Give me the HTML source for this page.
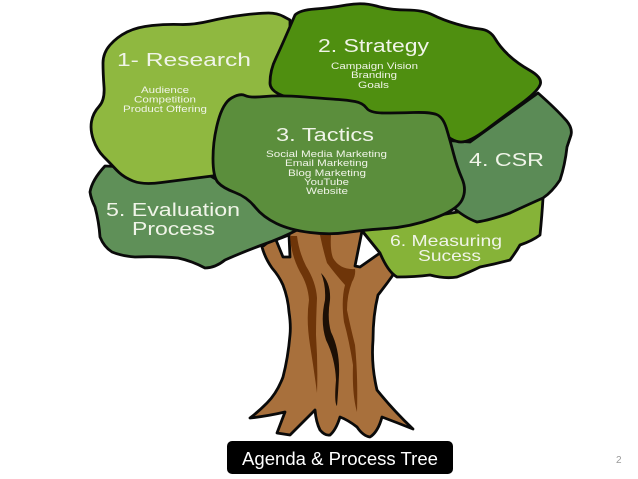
<!DOCTYPE html>
<html>
<head>
<meta charset="utf-8">
<style>
html,body{margin:0;padding:0;background:#fff;width:638px;height:479px;overflow:hidden}
svg{display:block}
text{font-family:"Liberation Sans",sans-serif}
.l{fill:#f0f4e8;font-size:18px}
.s{fill:#f0f4e8;font-size:9.5px}
.b{stroke:#0a0a0a;stroke-width:2.8;stroke-linejoin:round}
</style>
</head>
<body>
<svg width="638" height="479" viewBox="0 0 638 479" xmlns="http://www.w3.org/2000/svg">
<rect width="638" height="479" fill="#fff"/>

<!-- trunk -->
<path class="b" fill="#a8703c" d="M262 247 Q265 258 272 268 Q279 276 283 285 Q288 298 289 312 Q291 325 290 335 Q288 358 283 377 Q277 393 267 403 Q258 412 250 418 Q268 416 285 412 Q280 425 277 433 L290 435 Q303 422 315 410 Q316 422 320 430 Q325 436 330 435 Q336 430 340 417 Q348 420 357 427 Q363 436 370 437 Q378 432 382 417 Q398 423 413 429 Q393 410 377 390 Q371 365 373 340 Q373 315 378 295 Q386 285 393 275 Q388 263 380 253 L370 225 L290 225 Z"/>
<path class="b" fill="#fff" d="M276 240 L289 235 L290 257 L283 257 Z"/>
<path class="b" fill="#fff" d="M362 231 L380 253 L360 267 L355 266 Z"/>
<path fill="#6e3509" d="M290 236 L297 236 Q299 252 306 266 Q316 282 317 298 Q316 320 316 335 Q318 365 317 393 Q314 370 310 345 Q306 320 309 300 Q308 285 300 272 Q291 255 290 236 Z"/>
<path fill="#6e3509" d="M320 235 L331 235 Q330 250 333 258 Q340 270 355 269 Q356 275 352 282 Q347 295 347 310 Q350 325 355 345 Q358 375 357 412 Q352 395 353 365 Q349 340 344 322 Q341 300 345 285 Q336 275 327 263 Q323 250 320 235 Z"/>
<path fill="#1c0f05" d="M321 273 Q331 283 330 300 Q327 318 331 332 Q340 350 339 375 Q338 395 337 406 Q334 403 336 380 Q335 358 326 340 Q320 322 325 300 Q326 285 321 273 Z"/>

<!-- blob 6 -->
<path class="b" fill="#86b338" d="M360 228 Q372 243 380 253 Q388 272 397 277 Q415 277 430 275 Q445 279 457 277 Q470 272 480 267 Q495 264 510 260 Q516 252 520 245 Q532 241 540 235 Q542 215 543 198 L470 210 Z"/>
<!-- blob 4 -->
<path class="b" fill="#5b8b56" d="M538 93 Q555 108 564 118 Q573 127 571 135 L567 147 Q565 165 560 180 Q552 192 543 198 Q525 206 510 213 Q490 220 477 222 Q465 218 450 205 L440 140 L470 142 Z"/>
<!-- blob 5 -->
<path class="b" fill="#5f9058" d="M105 166 Q92 180 90 192 Q91 199 95 207 Q99 222 100 237 Q104 247 112 252 Q122 256 135 257 Q158 256 178 258 Q192 261 205 268 Q215 268 225 260 Q243 252 262 245 Q282 238 299 229 L270 210 L200 170 Z"/>
<!-- blob 1 -->
<path class="b" fill="#8fb840" d="M283.5 16.5 Q277 13 268.5 13 Q260 13 243.5 15 Q227 17 210 21 Q193 25 180 24.5 Q167 24 152 25.5 Q137 27 127 32 Q117 37 110 45 Q103 53 103 63 Q103 73 104 86.5 Q105 100 99 106.5 Q93 113 91.5 121.5 Q90 130 93.5 140 Q97 150 103.5 156.5 Q110 163 116.5 170 Q123 177 133 181 Q143 185 161.5 182.5 Q180 180 220 175 L290 100 L290 20 Z"/>
<!-- blob 2 -->
<path class="b" fill="#4f8f10" d="M295 15 Q300 10 315 9 Q330 8 346.5 5 Q363 2 376.5 6 Q390 10 406.5 10 Q423 10 433 15 Q443 20 456.5 24 Q470 28 480 29 Q490 30 495 38.5 Q500 47 508.5 55 Q517 63 530 70.5 Q543 78 540 85 Q537 92 520 104.5 Q503 117 486.5 129.5 Q470 142 461 142 Q452 142 440 130 L300 100 Q270 95 270 83 Q270 70 276 58 Q283 43 295 15 Z"/>
<!-- blob 3 -->
<path class="b" fill="#5b8e3c" d="M245 95.5 Q240 93 231.5 98 Q223 103 218 121.5 Q213 140 213 158.5 Q213 177 218 182.5 Q223 188 235 192.5 Q247 197 255 207 Q263 217 276.5 223.5 Q290 230 310 232.5 Q330 235 346.5 232.5 Q363 230 386.5 228.5 Q410 227 433.5 218.5 Q457 210 462 200 Q467 190 462 178.5 Q457 167 453.5 153.5 Q450 140 446.5 128.5 Q443 117 436.5 114.5 Q430 112 413.5 112.5 Q397 113 383.5 113 Q370 113 366.5 108 Q363 103 355 101.5 Q347 100 338.5 99.5 Q330 99 305 97 Q280 95 265 96.5 Q250 98 245 95.5 Z"/>

<!-- labels -->
<text class="l" x="117" y="66" textLength="134" lengthAdjust="spacingAndGlyphs">1- Research</text>
<text class="s" x="141" y="93" textLength="48" lengthAdjust="spacingAndGlyphs">Audience</text>
<text class="s" x="134" y="102.500" textLength="62" lengthAdjust="spacingAndGlyphs">Competition</text>
<text class="s" x="123" y="112" textLength="84" lengthAdjust="spacingAndGlyphs">Product Offering</text>

<text class="l" x="318" y="52" textLength="111" lengthAdjust="spacingAndGlyphs">2. Strategy</text>
<text class="s" x="331" y="69" textLength="87" lengthAdjust="spacingAndGlyphs">Campaign Vision</text>
<text class="s" x="351" y="78" textLength="46" lengthAdjust="spacingAndGlyphs">Branding</text>
<text class="s" x="358" y="88" textLength="31" lengthAdjust="spacingAndGlyphs">Goals</text>

<text class="l" x="276" y="141" textLength="98" lengthAdjust="spacingAndGlyphs">3. Tactics</text>
<text class="s" x="266" y="157" textLength="121" lengthAdjust="spacingAndGlyphs">Social Media Marketing</text>
<text class="s" x="285" y="166" textLength="83" lengthAdjust="spacingAndGlyphs">Email Marketing</text>
<text class="s" x="288" y="176" textLength="78" lengthAdjust="spacingAndGlyphs">Blog Marketing</text>
<text class="s" x="304" y="185" textLength="45" lengthAdjust="spacingAndGlyphs">YouTube</text>
<text class="s" x="306" y="194" textLength="42" lengthAdjust="spacingAndGlyphs">Website</text>

<text class="l" x="469" y="166" textLength="75" lengthAdjust="spacingAndGlyphs">4. CSR</text>
<text class="l" x="106" y="216" textLength="134" lengthAdjust="spacingAndGlyphs">5. Evaluation</text>
<text class="l" x="132" y="235" textLength="83" lengthAdjust="spacingAndGlyphs">Process</text>
<text class="l" style="font-size:16px" x="390" y="246" textLength="112" lengthAdjust="spacingAndGlyphs">6. Measuring</text>
<text class="l" style="font-size:16px" x="418" y="261" textLength="63" lengthAdjust="spacingAndGlyphs">Sucess</text>

<!-- title bar -->
<rect x="227" y="441" width="226" height="33" rx="5" ry="5" fill="#000"/>
<text x="242" y="465" fill="#fff" style="font-size:18px" textLength="196" lengthAdjust="spacingAndGlyphs">Agenda &amp; Process Tree</text>
<text x="616" y="463" fill="#999" style="font-size:10px">2</text>
</svg>
</body>
</html>
